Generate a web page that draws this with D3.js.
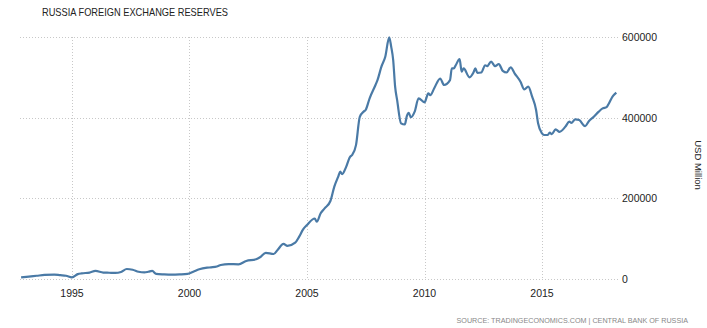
<!DOCTYPE html>
<html>
<head>
<meta charset="utf-8">
<script src="https://cdn.jsdelivr.net/npm/d3@7"></script>
<style>
  html, body { margin: 0; padding: 0; background: #fff; }
  svg { display: block; }
</style>
</head>
<body>
<svg id="chart" width="707" height="328"></svg>
<script>
const title = "RUSSIA FOREIGN EXCHANGE RESERVES";
const yAxisTitle = "USD Million";
const sourceText = "SOURCE: TRADINGECONOMICS.COM | CENTRAL BANK OF RUSSIA";

const dates = [
  "1992-11","1993-03","1993-07","1993-11","1994-04","1994-07","1994-10","1995-01","1995-04","1995-06",
  "1995-10","1996-01","1996-05","1996-08","1996-11","1997-02","1997-05","1997-08","1997-11","1998-02",
  "1998-04","1998-06","1998-08","1998-12","1999-04","1999-08","1999-12","2000-03","2000-06","2000-10",
  "2000-12","2001-03","2001-05","2001-09","2002-02","2002-06","2002-11","2003-01","2003-04","2003-08",
  "2003-10","2004-01","2004-03","2004-07","2004-09","2004-11","2005-01","2005-05","2005-06","2005-08",
  "2005-10","2006-01","2006-03","2006-05","2006-06","2006-07","2006-09","2006-11","2006-12","2007-02",
  "2007-04","2007-06","2007-07","2007-09","2007-12","2008-01","2008-03","2008-05","2008-07","2008-08",
  "2008-09","2008-10","2008-11","2009-01","2009-03","2009-04","2009-05","2009-06","2009-08","2009-10",
  "2010-01","2010-03","2010-04","2010-06","2010-09","2010-11","2011-02","2011-03","2011-04","2011-05",
  "2011-07","2011-08","2011-09","2011-12","2012-02","2012-03","2012-04","2012-06","2012-08","2012-09",
  "2012-11","2013-01","2013-03","2013-05","2013-07","2013-09","2013-11","2014-02","2014-04","2014-06",
  "2014-08","2014-10","2014-11","2015-01","2015-02","2015-04","2015-05","2015-06","2015-08","2015-10",
  "2016-01","2016-03","2016-04","2016-06","2016-08","2016-11","2017-01","2017-03","2017-06","2017-08",
  "2017-10","2017-11","2018-01","2018-03"
];
const reserves = [
  4000,6000,8000,10000,11000,9500,8000,4200,12000,14000,
  16000,20000,16000,15500,15000,17500,24800,23000,18000,16500,
  18000,20000,12500,11500,11000,11500,12500,18000,24000,28000,
  29000,31000,34700,37000,36400,44600,48800,53800,65000,62000,
  72000,87000,82000,90000,105000,123000,134000,150000,142000,163000,
  175000,194000,229000,254000,266000,260000,278000,303000,307000,332000,
  402000,415000,419000,448000,481000,493000,526000,551000,599000,576000,
  543000,477000,444000,386000,383000,404000,412000,401000,415000,448000,
  438000,460000,456000,473000,497000,481000,493000,522000,522000,530000,
  545000,514000,522000,500000,512000,522000,511000,512000,530000,528000,
  539000,528000,533000,516000,512000,525000,510000,489000,470000,477000,
  452000,419000,386000,361000,357000,357000,363000,359000,371000,365000,
  378000,390000,387000,396000,394000,379000,392000,400000,415000,423000,
  426000,434000,452000,462000
];
const xTickYears = [1995, 2000, 2005, 2010, 2015];
const yTicks = [0, 200000, 400000, 600000];

const parse = d3.timeParse("%Y-%m");
const data = dates.map((d, i) => ({ date: parse(d), value: reserves[i] }));

const svg = d3.select("#chart");
const x = d3.scaleTime()
  .domain([new Date(1995, 0, 1), new Date(2015, 0, 1)])
  .range([72, 542]);
const y = d3.scaleLinear().domain([0, 600000]).range([279, 37]);

const gridLeft = 20, gridRight = 618;
const font = "'Liberation Sans', Arial, sans-serif";

// horizontal grid
svg.append("g").selectAll("line").data(yTicks).join("line")
  .attr("x1", gridLeft).attr("x2", gridRight)
  .attr("y1", d => Math.round(y(d)) + 0.5).attr("y2", d => Math.round(y(d)) + 0.5)
  .attr("stroke", "#c8c8c8").attr("stroke-dasharray", "1,2");

// vertical grid
svg.append("g").selectAll("line").data(xTickYears).join("line")
  .attr("x1", d => Math.round(x(new Date(d, 0, 1))) + 0.5)
  .attr("x2", d => Math.round(x(new Date(d, 0, 1))) + 0.5)
  .attr("y1", y(600000)).attr("y2", y(0))
  .attr("stroke", "#c8c8c8").attr("stroke-dasharray", "1,2");

// line
svg.append("path").datum(data)
  .attr("fill", "none")
  .attr("stroke", "#4a7aa6")
  .attr("stroke-width", 2.2)
  .attr("stroke-linejoin", "round")
  .attr("d", d3.line().x(d => x(d.date)).y(d => y(d.value)).curve(d3.curveMonotoneX));

// y labels
svg.append("g").selectAll("text").data(yTicks).join("text")
  .attr("x", 622).attr("y", d => y(d) + 4)
  .attr("font-family", font).attr("font-size", 10.5).attr("fill", "#222")
  .text(d => d);

// x labels
svg.append("g").selectAll("text").data(xTickYears).join("text")
  .attr("x", d => x(new Date(d, 0, 1))).attr("y", 297)
  .attr("text-anchor", "middle")
  .attr("font-family", font).attr("font-size", 10.5).attr("fill", "#222")
  .text(d => d);

// title
svg.append("text").attr("x", 42).attr("y", 16)
  .attr("font-family", font).attr("font-size", 11).attr("fill", "#222")
  .attr("textLength", 186).attr("lengthAdjust", "spacingAndGlyphs")
  .text(title);

// y axis title
svg.append("text")
  .attr("transform", "translate(695,165) rotate(90)")
  .attr("text-anchor", "middle")
  .attr("font-family", font).attr("font-size", 9.5).attr("fill", "#222")
  .text(yAxisTitle);

// source
svg.append("text").attr("x", 688).attr("y", 323)
  .attr("text-anchor", "end")
  .attr("font-family", font).attr("font-size", 7.2).attr("fill", "#888")
  .text(sourceText);
</script>
</body>
</html>
